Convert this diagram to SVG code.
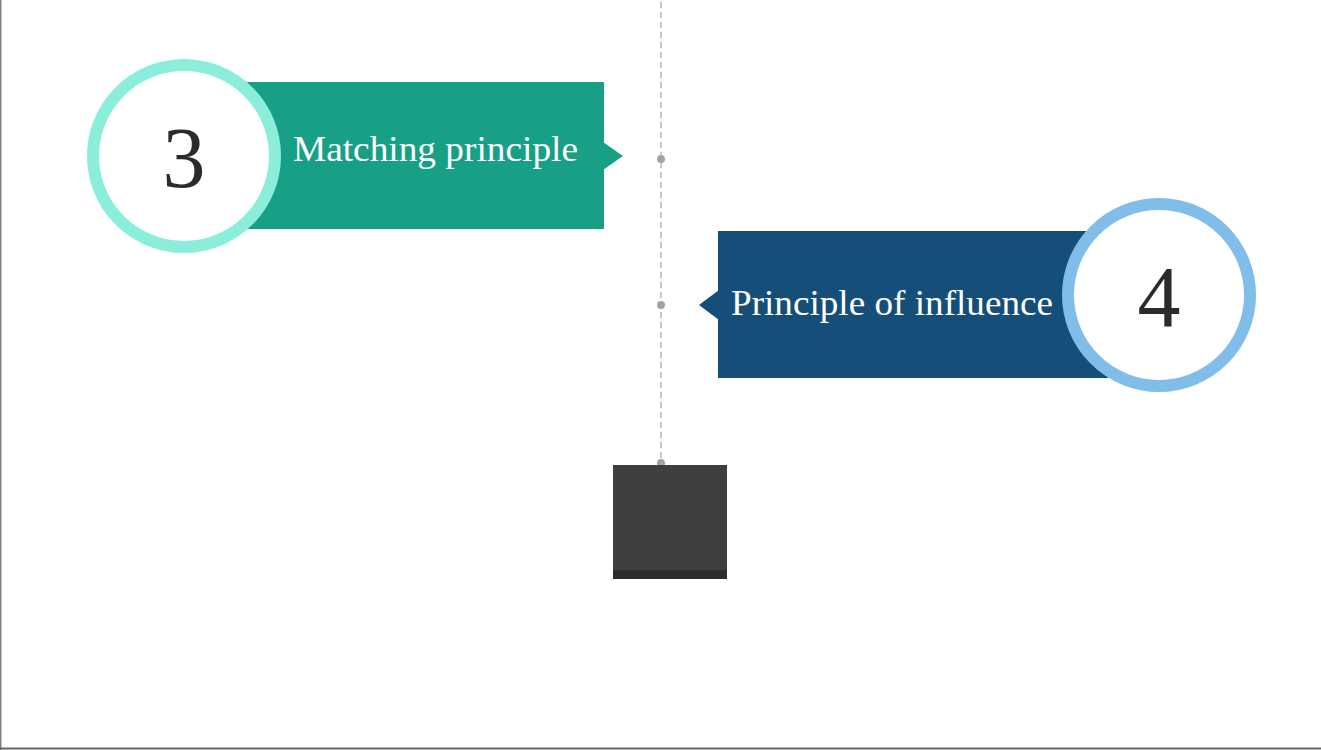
<svg xmlns="http://www.w3.org/2000/svg" width="1321" height="750" viewBox="0 0 1321 750">
  <style>
    .label { font-family: "Liberation Serif", "DejaVu Serif", serif; font-size: 35px; fill: #ffffff; }
    .num { font-family: "Liberation Serif", "DejaVu Serif", serif; font-size: 86px; fill: #2b2b2b; text-anchor: middle; }
    .ring { fill: #ffffff; stroke-width: 12; }
    .dot { fill: #a3a3a3; }
  </style>
  <rect x="0" y="0" width="1321" height="750" fill="#ffffff"/>
  <!-- frame edges -->
  <line x1="0.75" y1="0" x2="0.75" y2="750" stroke="#808080" stroke-width="1.5"/>
  <line x1="0" y1="748.5" x2="1321" y2="748.5" stroke="#666666" stroke-width="2"/>

  <!-- timeline axis -->
  <g id="connectors">
    <line x1="661" y1="2" x2="661" y2="462" stroke="#ababab" stroke-width="1.3" stroke-dasharray="6 4"/>
    <circle class="dot" cx="661" cy="159" r="4"/>
    <circle class="dot" cx="661" cy="305" r="4"/>
    <circle class="dot" cx="661" cy="463" r="4"/>
  </g>

  <!-- step 3 -->
  <g id="step3">
    <rect x="246" y="82" width="358" height="147" fill="#17a086"/>
    <polygon points="603,142 623,156 603,170" fill="#17a086"/>
    <circle class="ring" cx="184" cy="156" r="91" stroke="#8aeedb"/>
    <text class="num" x="184" y="187">3</text>
    <text class="label" x="293" y="161" textLength="285" lengthAdjust="spacingAndGlyphs">Matching principle</text>
  </g>

  <!-- step 4 -->
  <g id="step4">
    <rect x="718" y="231" width="390" height="147" fill="#154f79"/>
    <polygon points="719,290 699,305 719,320" fill="#154f79"/>
    <circle class="ring" cx="1159" cy="295" r="91" stroke="#80bde9"/>
    <text class="num" x="1159" y="326">4</text>
    <text class="label" x="731" y="315" textLength="322" lengthAdjust="spacingAndGlyphs">Principle of influence</text>
  </g>

  <!-- base block -->
  <g id="base">
    <rect x="613" y="465" width="114" height="114" fill="#3f3f3f"/>
    <rect x="613" y="570" width="114" height="9" fill="#2e2e2e"/>
  </g>
</svg>
